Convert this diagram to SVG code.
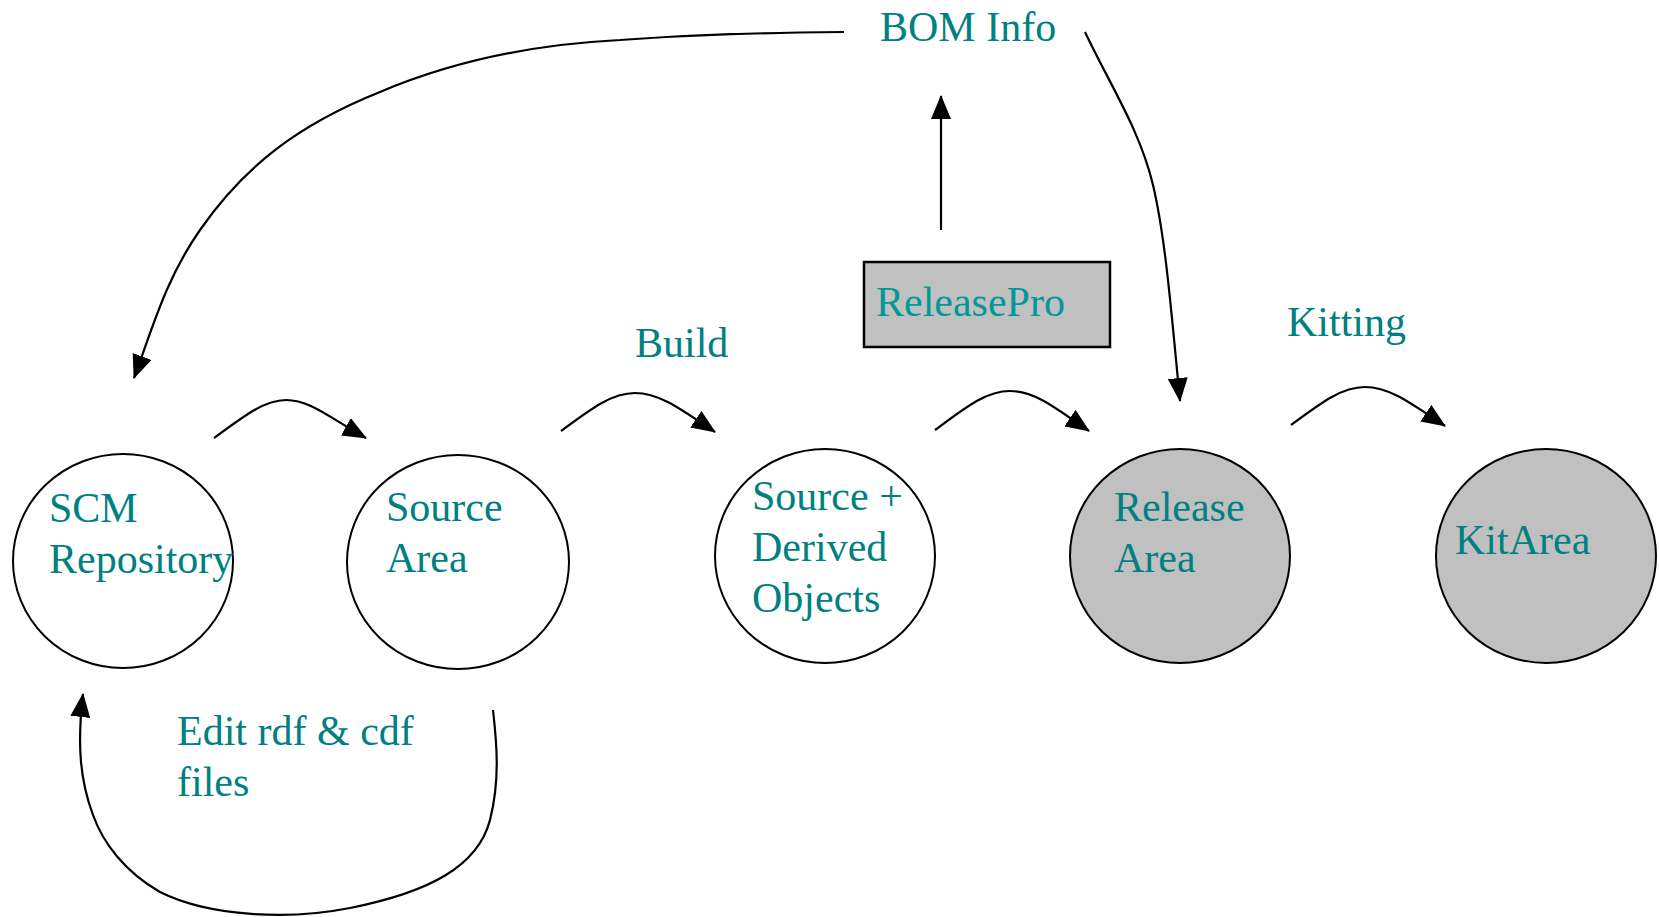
<svg xmlns="http://www.w3.org/2000/svg" width="1659" height="917" viewBox="0 0 1659 917">
  <style>
    .node { stroke: #000; stroke-width: 2; }
    .plain { fill: #fff; }
    .shaded { fill: #c0c0c0; }
    .lbl { font-family: "Liberation Serif", "Times New Roman", serif; font-size: 42px; fill: #008080; }
    .edge { fill: none; stroke: #000; stroke-width: 2.2; marker-end: url(#head); }
  </style>
  <defs>
    <marker id="head" viewBox="0 0 24 20" refX="23" refY="10" markerWidth="24" markerHeight="20" markerUnits="userSpaceOnUse" orient="auto">
      <path d="M0,0 L24,10 L0,20 Z" fill="#000"/>
    </marker>
  </defs>

  <rect width="1659" height="917" fill="#fff"/>

  <!-- connectors -->
  <g id="connectors">
    <!-- BOM Info back to the repository -->
    <path class="edge" d="M844,32 C760,33 700,34 620,40 C540,44 460,58 380,92 C300,124 245,165 200,230 C165,280 152,330 134,378"/>
    <!-- BOM Info down to the release area -->
    <path class="edge" d="M1085,32 C1110,85 1140,130 1153,185 C1166,240 1172,320 1180,401"/>
    <!-- ReleasePro up to BOM Info -->
    <path class="edge" d="M941,230 L941,96"/>
    <!-- flow arcs -->
    <path class="edge" d="M214,438 C245,415 265,400 286,400 C310,400 330,418 366,438"/>
    <path class="edge" d="M561,431 C592,408 612,393 635,393 C660,393 682,410 715,432"/>
    <path class="edge" d="M935,430 C966,407 986,391 1010,391 C1036,391 1058,410 1089,431"/>
    <path class="edge" d="M1291,425 C1322,402 1342,387 1365,387 C1390,387 1412,404 1445,426"/>
    <!-- edit loop back to the repository -->
    <path class="edge" d="M493,710 C497,745 500,780 490,820 C478,866 430,892 350,908 C290,920 210,917 160,892 C125,872 103,843 93,815 C80,780 77,745 83,694"/>
  </g>

  <!-- nodes -->
  <g id="scm">
    <ellipse class="node plain" cx="123" cy="561" rx="110" ry="107"/>
    <text class="lbl" x="49" y="522">SCM</text>
    <text class="lbl" x="49" y="573">Repository</text>
  </g>
  <g id="source">
    <ellipse class="node plain" cx="458" cy="562" rx="111" ry="107"/>
    <text class="lbl" x="386" y="521">Source</text>
    <text class="lbl" x="386" y="572">Area</text>
  </g>
  <g id="derived">
    <ellipse class="node plain" cx="825" cy="556" rx="110" ry="107"/>
    <text class="lbl" x="752" y="510">Source +</text>
    <text class="lbl" x="752" y="561">Derived</text>
    <text class="lbl" x="752" y="612">Objects</text>
  </g>
  <g id="release">
    <ellipse class="node shaded" cx="1180" cy="556" rx="110" ry="107"/>
    <text class="lbl" x="1114" y="521">Release</text>
    <text class="lbl" x="1114" y="572">Area</text>
  </g>
  <g id="kit">
    <ellipse class="node shaded" cx="1546" cy="556" rx="110" ry="107"/>
    <text class="lbl" x="1455" y="554">KitArea</text>
  </g>
  <g id="releasepro">
    <rect class="shaded" x="864" y="262" width="246" height="85" stroke="#000" stroke-width="2.5"/>
    <text class="lbl" x="876" y="316" style="fill:#009999">ReleasePro</text>
  </g>
  <g id="bom">
    <text class="lbl" x="880" y="41">BOM Info</text>
  </g>

  <!-- flow labels -->
  <g id="labels">
    <text class="lbl" x="635" y="357">Build</text>
    <text class="lbl" x="1287" y="336">Kitting</text>
    <text class="lbl" x="177" y="745">Edit rdf &amp; cdf</text>
    <text class="lbl" x="177" y="796">files</text>
  </g>
</svg>
